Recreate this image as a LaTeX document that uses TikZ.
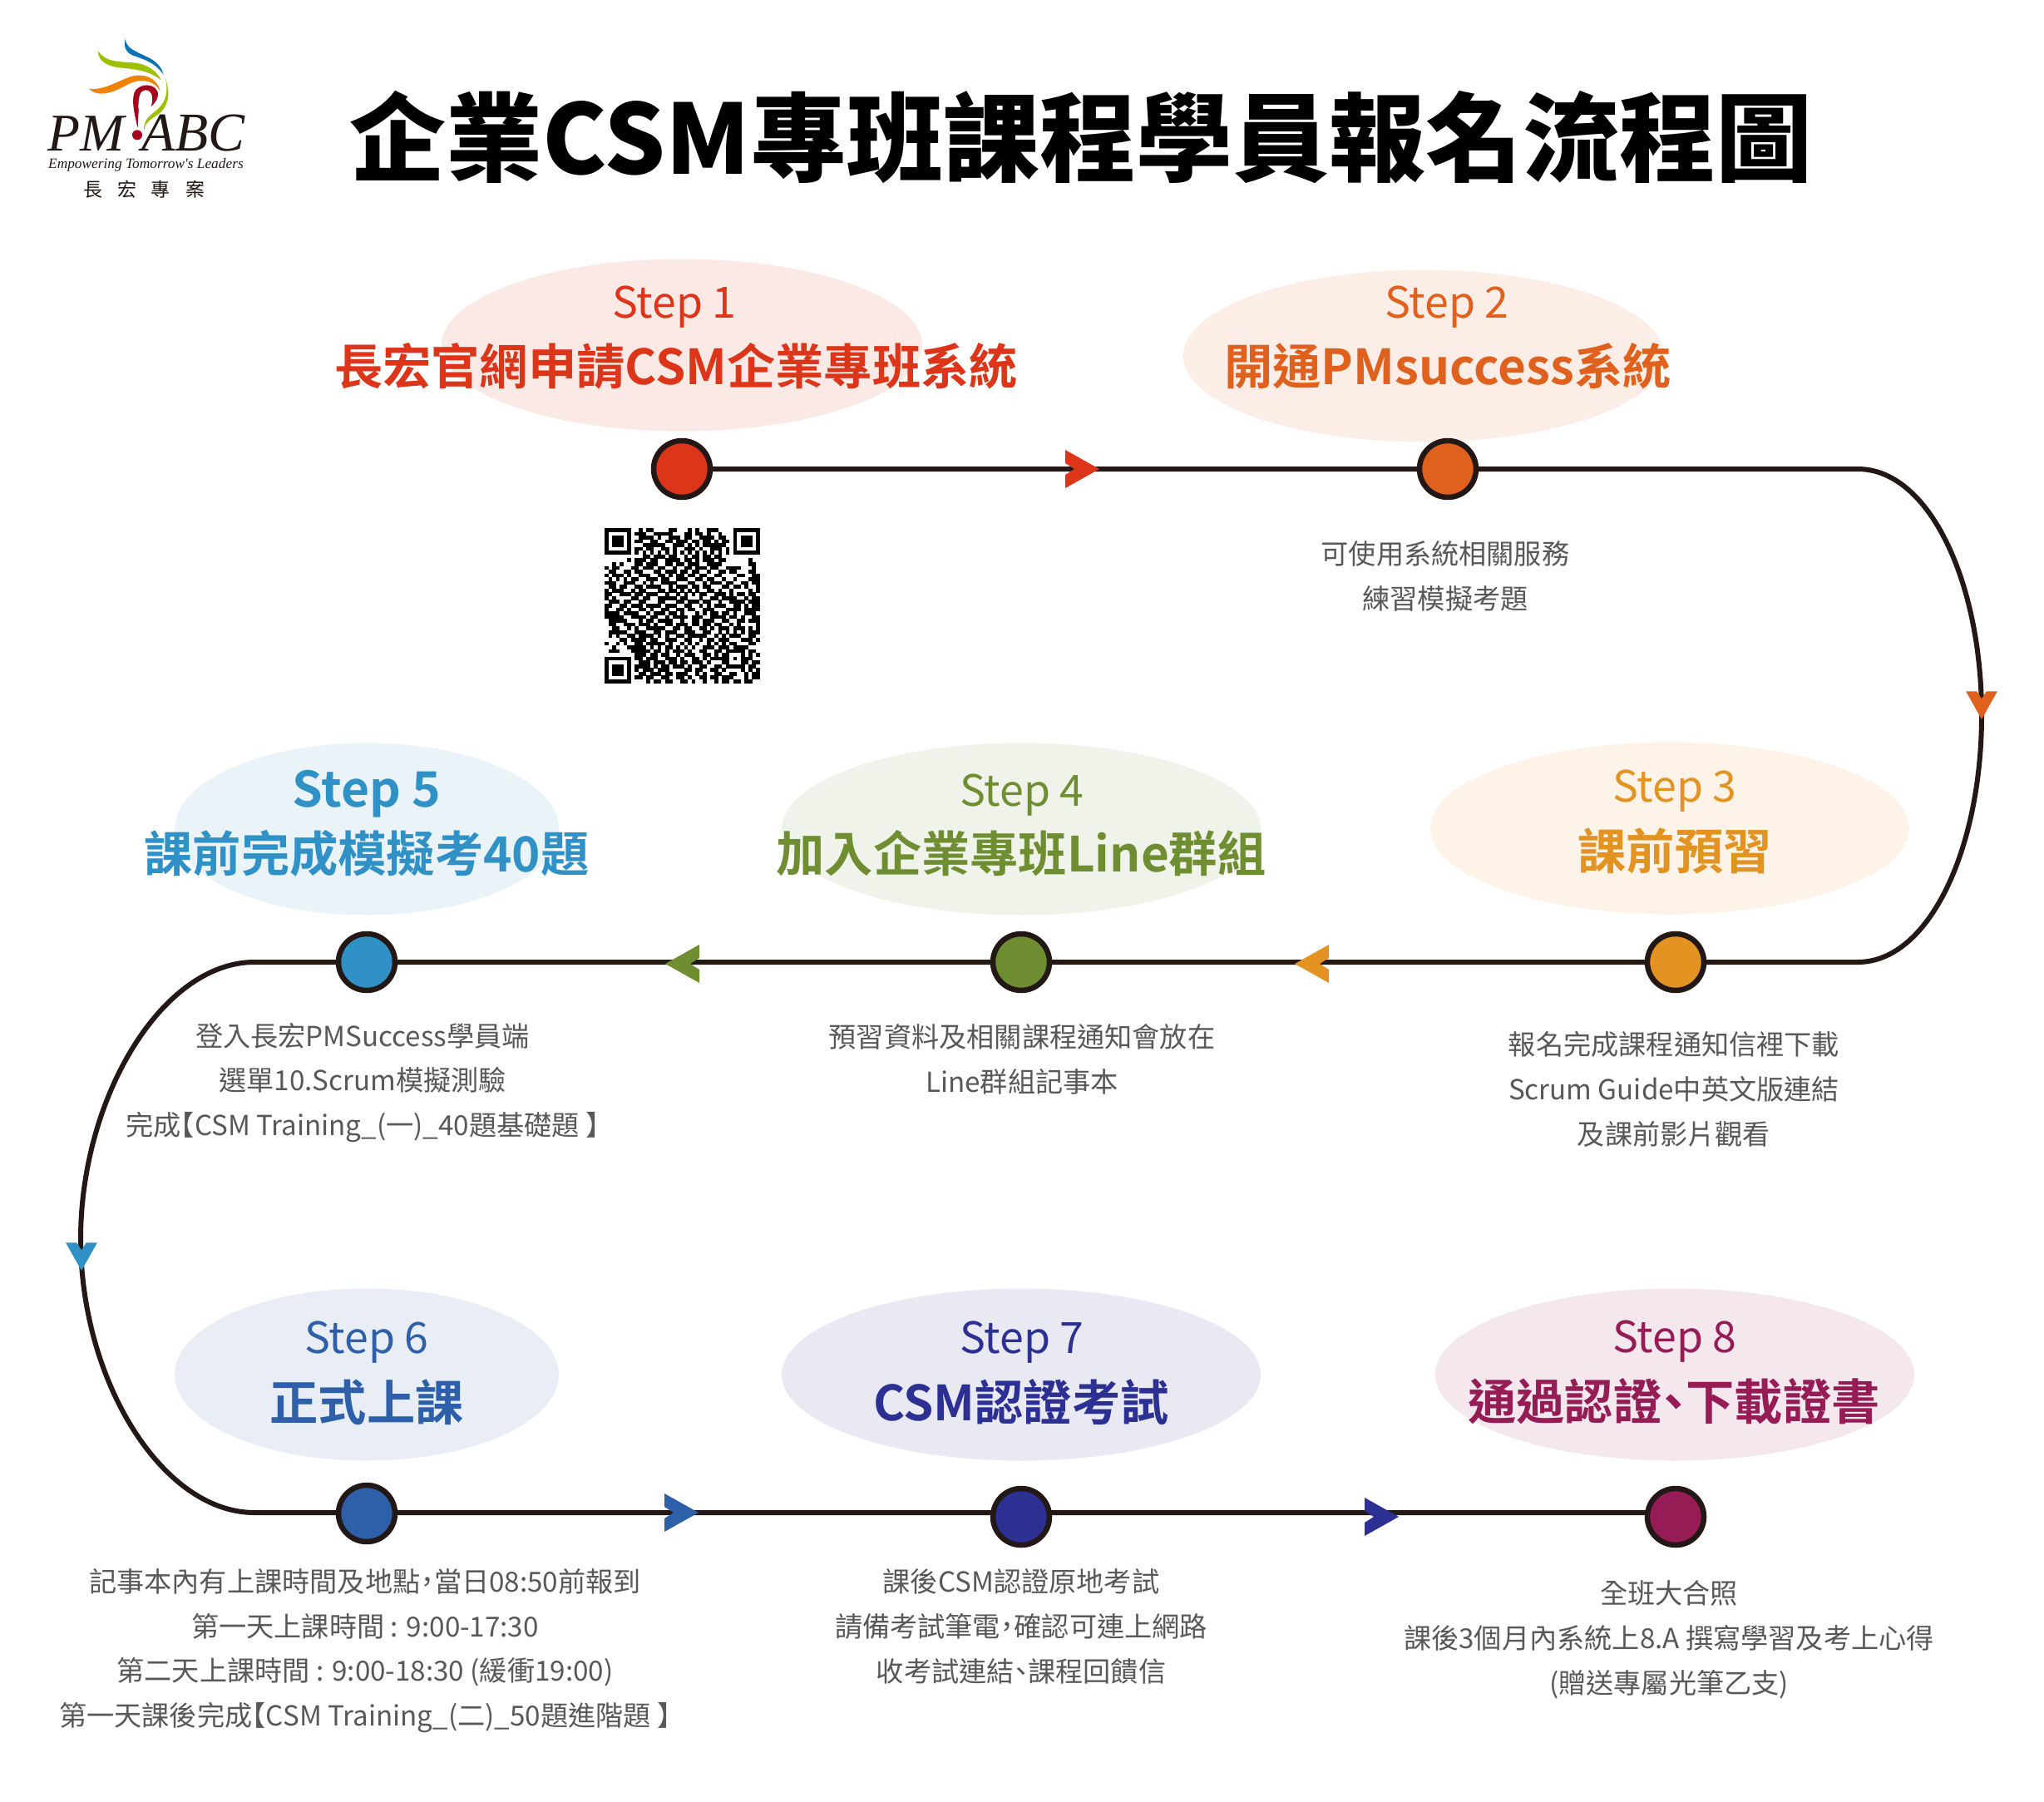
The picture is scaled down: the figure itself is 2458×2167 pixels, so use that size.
\documentclass[tikz,border=0pt]{standalone}
\usepackage{fontspec}
\setmainfont{Noto Sans CJK TC}[BoldFont={Noto Sans CJK TC Bold}]
\newfontfamily\blackfont{Noto Sans CJK TC Black}
\newfontfamily\logoserif{Liberation Serif}[ItalicFont={Liberation Serif Italic}]
\definecolor{lineK}{HTML}{231815}
\definecolor{descK}{HTML}{595757}
\definecolor{cA}{HTML}{DC3519}\definecolor{eA}{HTML}{FBE9E5}
\definecolor{cB}{HTML}{E0611E}\definecolor{eB}{HTML}{FCEEE7}
\definecolor{cC}{HTML}{E39322}\definecolor{eC}{HTML}{FDF3E8}
\definecolor{cD}{HTML}{6F8E32}\definecolor{eD}{HTML}{F0F3E9}
\definecolor{cE}{HTML}{3091C7}\definecolor{eE}{HTML}{E9F3F8}
\definecolor{cF}{HTML}{2E5FA9}\definecolor{eF}{HTML}{E9EEF6}
\definecolor{cG}{HTML}{2C3092}\definecolor{eG}{HTML}{E9E9F4}
\definecolor{cH}{HTML}{951C55}\definecolor{eH}{HTML}{F4E7EE}
\tikzset{
  dotnode/.style={circle,draw=lineK,line width=6.5bp,fill=#1,minimum size=68bp,inner sep=0pt},
  blob/.style={ellipse,fill=#1,inner sep=0pt},
  steplabel/.style={text=#1,font=\fontsize{52}{60}\selectfont,inner sep=0pt},
  steptitle/.style={text=#1,font=\fontsize{58.5}{64}\selectfont\bfseries,inner sep=0pt},
  desc/.style={text=descK,font=\fontsize{33.3}{54}\selectfont,align=center,inner sep=0pt},
  route/.style={draw=lineK,line width=6bp},
}
\usetikzlibrary{shapes.geometric}
\newcommand{\chevronmark}[5]{\begin{scope}[shift={(#1,#2)},rotate=#3,scale=#5]\fill[#4] (0,0) -- (-41,23) -- (-41,7) -- (-30,0) -- (-41,-7) -- (-41,-23) -- cycle;\end{scope}}
\newcommand{\halfmark}[1]{\makebox[.5em][c]{#1}}
\newcommand{\lbk}{\kern-.5em 【}
\newcommand{\rbk}{】\kern-.5em\relax}
\newcount\qrr \newcount\qrc
\def\qrscan#1{\ifx;#1\else\if1#1\fill[black] (727+4.55*\the\qrc,635+4.55*\the\qrr) rectangle +(4.7,4.7);\fi\advance\qrc by 1 \expandafter\qrscan\fi}
\def\qrrow#1{\qrc=0 \qrscan#1;\global\advance\qrr by 1 }
\begin{document}
\begin{tikzpicture}[x=1bp,y=-1bp]
\useasboundingbox (0,0) rectangle (2458,2167);
\fill[white] (0,0) rectangle (2458,2167);
% logo
\begin{scope}[x=0.3333bp,y=-0.3333bp]
\fill[color={rgb,255:red,11;green,116;blue,184}] (452,140) .. controls (455,175) and (490,185) .. (530,205) .. controls (565,220) and (585,245) .. (590,270) .. controls (560,225) and (520,215) .. (480,200) .. controls (455,190) and (445,170) .. (452,140) -- cycle;
\fill[color={rgb,255:red,157;green,193;blue,0}] (353,183) .. controls (380,225) and (430,222) .. (480,226) .. controls (530,230) and (565,255) .. (582,290) .. controls (540,255) and (490,250) .. (440,245) .. controls (390,240) and (355,225) .. (353,183) -- cycle;
\fill[color={rgb,255:red,240;green,131;blue,0}] (320,320) .. controls (370,328) and (420,295) .. (470,277) .. controls (520,262) and (565,280) .. (578,328) .. controls (555,290) and (510,280) .. (460,305) .. controls (400,340) and (350,350) .. (320,320) -- cycle;
\fill[color={rgb,255:red,157;green,193;blue,0}] (595,280) .. controls (612,320) and (615,370) .. (580,405) .. controls (550,430) and (525,435) .. (520,470) .. controls (515,420) and (560,410) .. (582,380) .. controls (605,350) and (605,310) .. (595,280) -- cycle;
\fill[color={rgb,255:red,166;green,0;blue,30}] (497,462) .. controls (482,400) and (472,350) .. (490,325) .. controls (510,300) and (560,300) .. (570,335) .. controls (572,360) and (555,375) .. (545,385) .. controls (555,355) and (550,325) .. (525,325) .. controls (505,325) and (497,350) .. (500,400) -- cycle;
\fill[color={rgb,255:red,166;green,0;blue,30}] (495,487) circle (18);
\end{scope}
\node[inner sep=0pt,anchor=base west,text=lineK,font=\logoserif\itshape\fontsize{64}{64}\selectfont] (logoPM) at (57,182) {PM};
\node[inner sep=0pt,anchor=base west,text=lineK,font=\logoserif\itshape\fontsize{66}{66}\selectfont] (logoABC) at (170,182) {ABC};
\node[inner sep=0pt,anchor=base west,text=lineK,font=\logoserif\itshape\fontsize{17.4}{17.4}\selectfont] (logoTag) at (58,203) {Empowering Tomorrow's Leaders};
\foreach \xx/\cc/\nn in {112/長/a,153/宏/b,193/專/c,235/案/d}
  \node[inner sep=0pt,text=lineK,font=\fontsize{23}{23}\selectfont] (logoCh\nn) at (\xx,228) {\cc};
% title
\node[inner sep=0pt,text=black,font=\blackfont\fontsize{116.5}{125}\selectfont] (title) at (1300,165) {企業CSM專班課程學員報名流程圖};
% ellipses
\node[blob=eA,minimum width=578bp,minimum height=207bp] (e1) at (820,415) {};
\node[blob=eB,minimum width=578bp,minimum height=207bp] (e2) at (1712,428) {};
\node[blob=eC,minimum width=576bp,minimum height=207bp] (e3) at (2008,996) {};
\node[blob=eD,minimum width=576bp,minimum height=207bp] (e4) at (1228,997) {};
\node[blob=eE,minimum width=462bp,minimum height=207bp] (e5) at (441,997) {};
\node[blob=eF,minimum width=462bp,minimum height=207bp] (e6) at (441,1653) {};
\node[blob=eG,minimum width=576bp,minimum height=207bp] (e7) at (1228,1653) {};
\node[blob=eH,minimum width=576bp,minimum height=207bp] (e8) at (2014,1653) {};
% route coordinates
\coordinate (rA) at (2234,564);
\coordinate (rB) at (2383,860);
\coordinate (rC) at (2234,1157);
\coordinate (lA) at (306,1157);
\coordinate (lB) at (97,1490);
\coordinate (lC) at (306,1819);
\coordinate (endR) at (2015,1819);
\coordinate (n1c) at (820,564);
\draw[route] (n1c) -- (rA) .. controls (2320,564) and (2383,700) .. (rB) .. controls (2383,1020) and (2320,1157) .. (rC) -- (lA) .. controls (195,1157) and (97,1320) .. (lB) .. controls (97,1660) and (195,1819) .. (lC) -- (endR);
% chevrons
\chevronmark{1322}{564}{0}{cA}{1}
\chevronmark{2383}{865}{-90}{cB}{0.82}
\chevronmark{1557}{1159}{180}{cC}{1}
\chevronmark{800}{1159}{180}{cD}{1}
\chevronmark{98}{1528}{-90}{cE}{0.82}
\chevronmark{840}{1819}{0}{cF}{1}
\chevronmark{1682}{1824}{0}{cG}{1}
% dots
\node[dotnode=cA] (n1) at (820,564) {};
\node[dotnode=cB] (n2) at (1741,564) {};
\node[dotnode=cC] (n3) at (2015,1157) {};
\node[dotnode=cD] (n4) at (1228,1157) {};
\node[dotnode=cE] (n5) at (441,1157) {};
\node[dotnode=cF] (n6) at (441,1820) {};
\node[dotnode=cG] (n7) at (1228,1824) {};
\node[dotnode=cH] (n8) at (2015,1824) {};
% labels
\node[steplabel=cA] (s1) at (811,369) {Step 1};
\node[steptitle=cA] (t1) at (813,440) {長宏官網申請CSM企業專班系統};
\node[steplabel=cB] (s2) at (1740,369) {Step 2};
\node[steptitle=cB] (t2) at (1741,440) {開通PMsuccess系統};
\node[steplabel=cC] (s3) at (2014,951) {Step 3};
\node[steptitle=cC] (t3) at (2014,1023) {課前預習};
\node[steplabel=cD] (s4) at (1229,956) {Step 4};
\node[steptitle=cD] (t4) at (1228,1026) {加入企業專班Line群組};
\node[steplabel=cE,font=\fontsize{59}{64}\selectfont\bfseries] (s5) at (441,955) {Step 5};
\node[steptitle=cE] (t5) at (441,1026) {課前完成模擬考40題};
\node[steplabel=cF] (s6) at (441,1614) {Step 6};
\node[steptitle=cF] (t6) at (441,1686) {正式上課};
\node[steplabel=cG] (s7) at (1229,1614) {Step 7};
\node[steptitle=cG] (t7) at (1228,1686) {CSM認證考試};
\node[steplabel=cH] (s8) at (2014,1613) {Step 8};
\node[steptitle=cH] (t8) at (2013,1685) {通過認證\halfmark{、}下載證書};
% descriptions
\node[desc] (d2) at (1738,693) {可使用系統相關服務\\練習模擬考題};
\node[desc] (d3) at (2013,1310) {報名完成課程通知信裡下載\\Scrum Guide中英文版連結\\及課前影片觀看};
\node[desc] (d4) at (1229,1274) {預習資料及相關課程通知會放在\\Line群組記事本};
\node[desc] (d5) at (436,1302) {登入長宏PMSuccess學員端\\選單10.Scrum模擬測驗\\完成\lbk CSM Training\_(一)\_40題基礎題 \rbk};
\node[desc] (d6) at (439,1985) {記事本內有上課時間及地點\halfmark{，}當日08:50前報到\\第一天上課時間 : 9:00-17:30\\第二天上課時間 : 9:00-18:30 (緩衝19:00)\\第一天課後完成\lbk CSM Training\_(二)\_50題進階題 \rbk};
\node[desc] (d7) at (1228,1956) {課後CSM認證原地考試\\請備考試筆電\halfmark{，}確認可連上網路\\收考試連結\halfmark{、}課程回饋信};
\node[desc] (d8) at (2007,1972) {全班大合照\\課後3個月內系統上8.A 撰寫學習及考上心得\\(贈送專屬光筆乙支)};
% QR code
\qrr=0
\qrrow{1111111 0 0101100001100010100111000 0 1111111}
\qrrow{1000001 0 1110011111000110110100100 0 1000001}
\qrrow{1011101 0 0111101001110110011110110 0 1011101}
\qrrow{1011101 0 1100110011011101101101011 0 1011101}
\qrrow{1011101 0 0011111100111010101111110 0 1011101}
\qrrow{1000001 0 1101100110100111010011101 0 1000001}
\qrrow{1111111 0 1010101010101010101010101 0 1111111}
\qrrow{0000000 0 0011011101100101101101100 0 0000000}
\qrrow{00000010 1110110011110110101110110 00000100}
\qrrow{0010100011 0111001101 1011100111 10000000110}
\qrrow{1011000110 1110110010 0110111011 00111100010}
\qrrow{0110011011 0001101110 1101100100 11011000110}
\qrrow{1011101001 1100110101 1011011001 10000110011}
\qrrow{0101010110 0111011001 1100110110 01001000111}
\qrrow{1110011100 1010011110 0011001011 10110011011}
\qrrow{0110110011 0111100101 1101101100 01101101001}
\qrrow{1011100101 1000110110 1010100110 10010000101}
\qrrow{1100111011 0111001001 0101011001 11010110110}
\qrrow{1010000110 1100111110 1100010011 01111001011}
\qrrow{0111011001 1000110001 1011101100 10011110111}
\qrrow{1100110111 0111101110 0110010101 11001101011}
\qrrow{1001101001 1010011001 1011001110 00111101111}
\qrrow{1111011110 0101110110 1000101011 01101001110}
\qrrow{1111100111 1011001011 1101110011 11011010011}
\qrrow{0111110001 0110111100 1001101110 01100110111}
\qrrow{0110011101 1101001101 1101101101 10010100001}
\qrrow{0011001010 0111110011 0110011010 11101110101}
\qrrow{0111110011 1001101110 0111001100 10101010111}
\qrrow{0101001101 1110101001 1011111001 01011100110}
\qrrow{0000110111 1011001110 0110010110 11100011101}
\qrrow{1001010011 0111110100 1010100101 01011000110}
\qrrow{0010001111 1010101101 0101001110 11101111000}
\qrrow{0111000111 1101101011 1010011001 10111110110}
\qrrow{0000000011 1011011001 0111001101 01100010101}
\qrrow{1111111011 0111001110 1001101011 11101011100}
\qrrow{1000001001 1101110110 1101110100 01100011011}
\qrrow{1011101011 1101011011 1010011001 10111110110}
\qrrow{1011101010 1110111000 0110110011 01000010101}
\qrrow{1011101001 1011101101 1100101001 10011001011}
\qrrow{1000001011 0110011001 1010011011 01110001011}
\qrrow{1111111000 0101101100 1101001001 01101101100}
\end{tikzpicture}
\end{document}
